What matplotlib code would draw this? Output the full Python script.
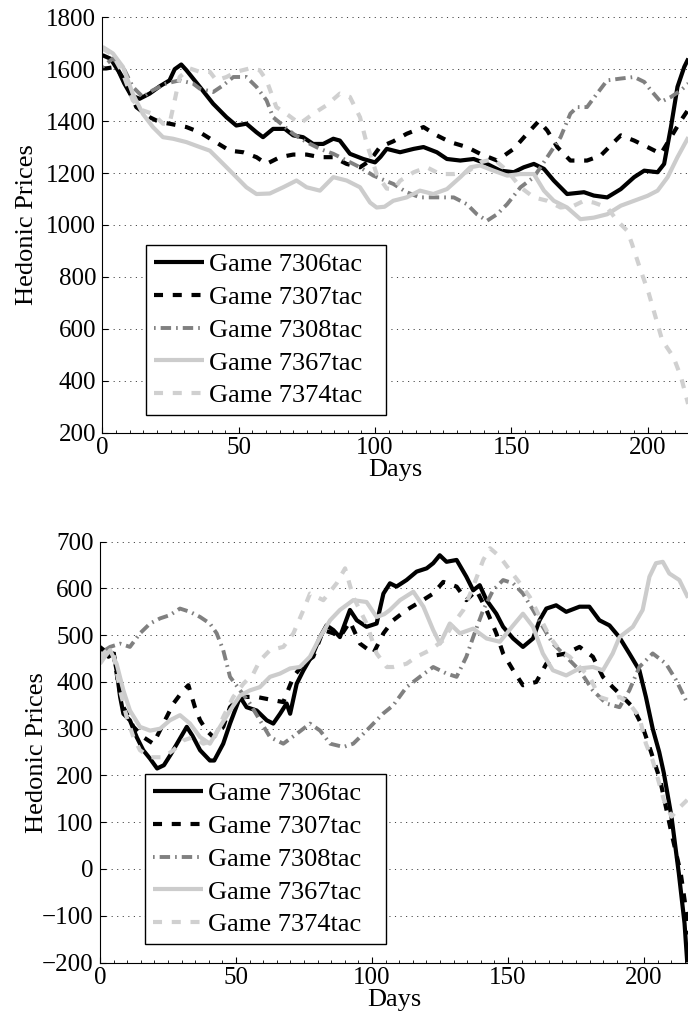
import matplotlib
matplotlib.use("Agg")
import matplotlib.pyplot as plt
from matplotlib.ticker import MultipleLocator

plt.rcParams['font.family'] = ['Liberation Serif', 'DejaVu Serif']
plt.rcParams['font.size'] = 18
plt.rcParams['lines.scale_dashes'] = False

games = ['Game 7306tac', 'Game 7307tac', 'Game 7308tac', 'Game 7367tac', 'Game 7374tac']

# (day, price) readings for the first game set
top_7306 = [(0, 1654), (3, 1640), (6, 1590), (8, 1545), (10.5, 1499), (13.6, 1486), (17.3, 1506),
            (21, 1534), (24.6, 1557), (26.5, 1600), (28.9, 1618), (30.8, 1596), (35.7, 1532),
            (40.6, 1467), (45.5, 1415), (49.1, 1383), (52.8, 1390), (56.5, 1357), (58.9, 1338),
            (62.6, 1370), (66.9, 1370), (70, 1345), (73.6, 1338), (77.3, 1312), (81, 1312),
            (84.7, 1332), (87.1, 1325), (90.8, 1274), (95.7, 1254), (100, 1241), (102, 1262),
            (104.3, 1293), (109.2, 1280), (114.2, 1293), (117.8, 1300), (122.7, 1280), (126.4, 1254),
            (131.3, 1248), (136.2, 1254), (141.1, 1235), (146, 1209), (150.9, 1203), (154.6, 1222),
            (158.3, 1235), (162, 1216), (165.6, 1171), (170.5, 1119), (176.7, 1126), (180.3, 1113),
            (185.2, 1106), (190.2, 1138), (195.1, 1184), (198.8, 1209), (203.7, 1203), (206.1, 1235),
            (208.6, 1377), (211, 1532), (213.5, 1609), (215, 1641)]
top_7307 = [(0, 1603), (1.3, 1603), (5, 1609), (8.7, 1545), (12.4, 1454), (17.3, 1415), (21, 1396),
            (24.6, 1390), (30.8, 1377), (35.7, 1357), (40.6, 1325), (46.7, 1286), (51.6, 1280),
            (56.5, 1261), (60.2, 1235), (65.1, 1261), (70, 1271), (74.9, 1271), (79.8, 1261),
            (84.7, 1261), (89.6, 1235), (94.5, 1222), (98.2, 1248), (101.8, 1300), (106.7, 1322),
            (111.6, 1351), (117.8, 1377), (122.7, 1345), (127.6, 1319), (133.7, 1300), (138.6, 1274),
            (144.8, 1248), (150.9, 1293), (155.8, 1351), (160.1, 1400), (163.2, 1364), (166.9, 1300),
            (171.7, 1248), (177.8, 1248), (182.8, 1267), (187.7, 1319), (190.2, 1345), (195.1, 1325),
            (200, 1300), (204.9, 1274), (208.6, 1338), (212.3, 1403), (215, 1445)]
top_7308 = [(0, 1609), (3.8, 1641), (7.5, 1609), (11.1, 1532), (14.8, 1493), (18.5, 1519), (23.4, 1545),
            (28.3, 1557), (33.2, 1545), (35.7, 1525), (40.6, 1512), (44.3, 1538), (48, 1570),
            (52.8, 1570), (56.5, 1532), (60.2, 1480), (62.6, 1415), (66.3, 1383), (70, 1351),
            (74.9, 1319), (79.8, 1293), (84.7, 1274), (89.6, 1248), (94.5, 1222), (99.4, 1190),
            (104.3, 1168), (106.7, 1158), (111.6, 1126), (116.5, 1106), (122.7, 1106), (128.9, 1106),
            (133.7, 1080), (137.4, 1041), (141.1, 1016), (144.8, 1041), (148.5, 1080), (153.4, 1145),
            (158.3, 1184), (163.2, 1261), (168.1, 1338), (171.7, 1429), (174.2, 1454), (177.8, 1454),
            (181.5, 1506), (185.2, 1557), (190.2, 1564), (195.1, 1570), (198.8, 1551), (201.2, 1519),
            (204.9, 1474), (208.6, 1493), (212.3, 1519), (215, 1545)]
top_7367 = [(0, 1686), (3.8, 1661), (7.5, 1609), (11.1, 1506), (14.8, 1428), (18.5, 1377), (22.2, 1338),
            (25.9, 1332), (30.8, 1319), (35.7, 1300), (39.4, 1286), (44.3, 1235), (48, 1196),
            (52.8, 1145), (56.5, 1119), (61.4, 1121), (66.3, 1145), (71.2, 1171), (74.9, 1145),
            (79.8, 1132), (84.7, 1184), (89.6, 1171), (94.5, 1145), (98.2, 1086), (100.6, 1067),
            (103.5, 1070), (106.7, 1093), (111.6, 1106), (116.5, 1132), (121.4, 1119), (126.4, 1138),
            (131.3, 1184), (135, 1222), (138.6, 1229), (143.5, 1209), (148.5, 1190), (153.4, 1196),
            (158.3, 1196), (162, 1132), (165.6, 1093), (170.5, 1067), (175.4, 1022), (180.3, 1028),
            (185.2, 1041), (190.2, 1074), (195.1, 1093), (200, 1112), (203.7, 1132), (207.4, 1184),
            (211, 1261), (215, 1338)]
top_7374 = [(0, 1680), (3.8, 1654), (7.5, 1583), (11.1, 1480), (14.8, 1441), (18.5, 1428), (22.2, 1390),
            (24.6, 1390), (26.5, 1480), (28.3, 1570), (32, 1603), (35.7, 1590), (39.4, 1590),
            (41.8, 1557), (45.5, 1570), (49.1, 1590), (54, 1603), (57.7, 1596), (60.2, 1557),
            (63.8, 1454), (67.5, 1428), (72.4, 1390), (77.3, 1428), (82.2, 1461), (87.1, 1506),
            (90.8, 1493), (94.5, 1415), (97, 1312), (100.6, 1196), (104.3, 1140), (107, 1138),
            (109.2, 1170), (114.2, 1203), (119, 1222), (123.9, 1196), (128.9, 1196), (133.7, 1203),
            (138.6, 1241), (143.5, 1254), (148.5, 1209), (153.4, 1145), (158.3, 1106), (163.2, 1093),
            (168.1, 1067), (173, 1074), (176.7, 1093), (180.3, 1086), (185.2, 1067), (188.9, 1016),
            (192.6, 977), (194.3, 927), (197.1, 837), (200.5, 735), (202.6, 658), (205.4, 555),
            (209.5, 491), (212.3, 414), (214.9, 310)]

# (day, price) readings for the second game set
bot_7306 = [(0, 471), (1.8, 468), (3.1, 454), (4.9, 461), (6.1, 425), (7.4, 368), (8.6, 332), (11, 318),
            (13.5, 282), (15.9, 254), (18.4, 236), (21, 215), (23.5, 222), (26, 245), (29, 275),
            (31.9, 304), (34, 285), (36.8, 254), (40.4, 232), (42, 232), (45.3, 268), (47.8, 311),
            (51.5, 368), (53.9, 346), (57.6, 339), (61.3, 318), (63.7, 311), (66.2, 332), (68.6, 354),
            (69.9, 332), (72.3, 396), (74.8, 425), (78.4, 461), (80.9, 496), (83.3, 521), (85.8, 511),
            (88.2, 496), (91.9, 554), (94.4, 532), (98, 518), (101.7, 525), (104.2, 589), (106.6, 611),
            (109, 604), (112.7, 618), (116.4, 636), (120.1, 643), (122.5, 654), (124.9, 671),
            (127.4, 657), (131.1, 661), (134.7, 625), (137.2, 596), (139.6, 607), (142.1, 575),
            (145.7, 546), (148.2, 518), (151.9, 493), (155.5, 475), (159.2, 493), (161.6, 532),
            (164.1, 557), (167.7, 564), (171.4, 550), (176.3, 561), (179.9, 561), (183.6, 532),
            (187.3, 521), (190.9, 496), (194.6, 461), (198.3, 425), (200.7, 368), (203.2, 300),
            (205.6, 250), (207.3, 205), (210.1, 112), (212.8, -9), (214.9, -116), (215.9, -200)]
bot_7307 = [(0, 475), (2.5, 461), (4.9, 468), (6.7, 396), (8.6, 346), (12.3, 304), (15.9, 282),
            (19.6, 268), (23.3, 311), (27, 354), (30.6, 382), (32.5, 393), (34.9, 346), (36.8, 318),
            (39.2, 296), (41.7, 282), (45.3, 304), (47.8, 346), (51.5, 368), (57.6, 368), (63.7, 361),
            (67.4, 357), (71.1, 411), (74.8, 439), (78.4, 454), (82.1, 511), (85.8, 504), (88.2, 496),
            (91.9, 529), (95.6, 482), (100.5, 461), (104.2, 504), (107.8, 532), (112.7, 554),
            (117.6, 571), (122.5, 589), (126.2, 614), (131.1, 604), (134.7, 575), (138.4, 596),
            (142.1, 554), (145.7, 504), (148.2, 461), (151.9, 425), (155.5, 393), (160.4, 400),
            (164.1, 439), (167.7, 457), (171.4, 461), (176.3, 475), (181.2, 454), (184.9, 411),
            (188.5, 389), (192.2, 368), (195.9, 346), (199.5, 304), (202, 261), (205.9, 191),
            (210.1, 77), (213.5, -9), (215.6, -94), (216.3, -140)]
bot_7308 = [(0, 461), (3.7, 475), (7.4, 482), (11, 475), (14.7, 504), (18.4, 525), (22.1, 536),
            (25.7, 543), (29.4, 557), (33.1, 550), (36.8, 539), (40.4, 525), (42.9, 504), (45.3, 468),
            (47.8, 411), (51.5, 382), (55.1, 354), (58.8, 318), (62.5, 282), (67.4, 268), (72.3, 289),
            (77.2, 311), (80.9, 296), (84.6, 268), (89.5, 261), (93.1, 268), (96.8, 289), (100.5, 311),
            (104, 332), (107.8, 350), (112.7, 389), (117.6, 411), (122.5, 432), (127.4, 418),
            (131.1, 411), (134.7, 454), (137.2, 496), (140.9, 554), (144.5, 596), (148.2, 618),
            (151.9, 611), (155.5, 589), (159.2, 554), (162.8, 518), (166.5, 482), (171.4, 454),
            (176.3, 425), (181.2, 382), (186.1, 354), (191, 346), (194.6, 382), (198.3, 432),
            (203.2, 461), (208.1, 439), (211.8, 404), (215.9, 355)]
bot_7367 = [(0, 439), (1.8, 454), (3.7, 468), (6.1, 439), (8.6, 382), (11, 339), (14.7, 304),
            (18.4, 296), (22.1, 300), (25.7, 318), (29.4, 329), (33.1, 311), (36.8, 282), (40.4, 268),
            (44.1, 304), (47.8, 339), (51.5, 371), (55.1, 382), (58.8, 389), (62.5, 411), (66.2, 418),
            (69.9, 429), (73.5, 432), (77.2, 454), (80.9, 496), (84.6, 532), (88.2, 554), (93.1, 575),
            (98, 571), (101.7, 539), (104.5, 545), (106.6, 554), (110.3, 575), (115.2, 593),
            (118.9, 561), (122.5, 511), (125, 482), (128.6, 525), (132.3, 504), (137.2, 514),
            (142.1, 493), (147, 486), (151.9, 521), (155.5, 546), (159.2, 518), (162.8, 461),
            (166.5, 425), (171.4, 414), (176.3, 429), (181.2, 432), (184.9, 425), (188.5, 461),
            (191, 496), (195.9, 518), (199.5, 554), (202, 625), (204.4, 654), (206.9, 657),
            (209.3, 632), (213, 618), (216.2, 580)]
bot_7374 = [(0, 454), (2.5, 468), (4.9, 461), (7.4, 382), (9.8, 325), (12.3, 282), (14.7, 254),
            (18.4, 239), (23.3, 239), (27, 254), (30.6, 275), (34.3, 282), (38, 268), (41.7, 275),
            (45.3, 325), (49, 368), (52.7, 396), (56.4, 418), (58.8, 446), (62.5, 468), (67.4, 475),
            (71.1, 504), (74.8, 554), (77.2, 589), (82.1, 575), (87, 611), (90.1, 643), (93.1, 582),
            (98, 525), (101.7, 461), (105.4, 432), (107.8, 432), (112.7, 439), (116.4, 454),
            (121.3, 468), (126.2, 489), (129.9, 525), (133.6, 554), (137.2, 604), (140.9, 661),
            (143.4, 686), (147, 668), (150.7, 639), (154.4, 611), (158, 582), (161.7, 539),
            (165.4, 496), (169, 468), (172.7, 454), (176.3, 432), (180, 411), (183.6, 368),
            (187.3, 361), (191, 368), (194.6, 354), (198.3, 325), (200.7, 268), (203.2, 232),
            (207.3, 148), (210.1, 112), (213.5, 134), (216.3, 150)]

top_series = [top_7306, top_7307, top_7308, top_7367, top_7374]
bot_series = [bot_7306, bot_7307, bot_7308, bot_7367, bot_7374]

top_yticks = [200, 400, 600, 800, 1000, 1200, 1400, 1600, 1800]
bot_yticks = [-200, -100, 0, 100, 200, 300, 400, 500, 600, 700]
xticks = [0, 50, 100, 150, 200]

# black / grey print-friendly line styles
styles = [
    dict(color='black', lw=3.0, ls='-'),
    dict(color='black', lw=3.0, ls=(0, (6.5, 7))),
    dict(color='#808080', lw=2.8, ls=(0, (1.2, 3.6, 7.5, 3.6))),
    dict(color='#cccccc', lw=3.0, ls='-'),
    dict(color='#d0d0d0', lw=3.0, ls=(0, (6.5, 7))),
]

W, H = 688, 1021
fig = plt.figure(figsize=(W / 100, H / 100), dpi=100)


def px_box(left, top, right, bottom):
    return [left / W, 1 - bottom / H, (right - left) / W, (bottom - top) / H]


def setup(ax, series, yticks, xmax, legend_box, ylabel_x):
    for pts, st, name in zip(series, styles, games):
        d = [p[0] for p in pts]
        v = [p[1] for p in pts]
        ax.plot(d, v, label=name, solid_capstyle='butt', dash_capstyle='butt', **st)

    ax.set_xlim(0, xmax)
    ax.set_ylim(yticks[0], yticks[-1])
    ax.set_xticks(xticks)
    ax.set_yticks(yticks)
    ax.xaxis.set_minor_locator(MultipleLocator(5))

    for s in ['top', 'right']:
        ax.spines[s].set_visible(False)
    for s in ['left', 'bottom']:
        ax.spines[s].set_linewidth(0.8)

    ax.tick_params(direction='in', length=4.5, width=0.8, pad=4.5)
    ax.tick_params(axis='x', pad=3)
    ax.tick_params(axis='x', which='minor', direction='in', length=2, width=0.6)
    ax.yaxis.grid(True, color='#404040', lw=0.7, ls=(0, (0.8, 3.2)))
    ax.set_axisbelow(True)

    ax.set_xlabel('Days', fontsize=19, labelpad=0)
    ax.set_ylabel('Hedonic Prices', fontsize=19)
    ax.yaxis.set_label_coords(ylabel_x, 0.5)

    x0, y0, x1, y1 = legend_box
    leg = ax.legend(loc='upper left', mode='expand', borderaxespad=0,
                    bbox_to_anchor=(x0 / W, 1 - y1 / H, (x1 - x0) / W, (y1 - y0) / H),
                    bbox_transform=fig.transFigure, fontsize=19, handlelength=1.9,
                    handletextpad=0.2, borderpad=0.3, labelspacing=0.35, fancybox=False,
                    framealpha=1)
    leg.get_frame().set_edgecolor('black')
    leg.get_frame().set_linewidth(1.0)


ax1 = fig.add_axes(px_box(102.5, 17.3, W, 432.5))
setup(ax1, top_series, top_yticks, (W - 102.5) / 2.725, (145.7, 245, 385.7, 416), -0.11)

ax2 = fig.add_axes(px_box(100, 541.7, W, 962.5))
setup(ax2, bot_series, bot_yticks, (W - 100) / 2.72, (145, 774, 386, 945), -0.088)

fig.savefig('out.png', dpi=100)
